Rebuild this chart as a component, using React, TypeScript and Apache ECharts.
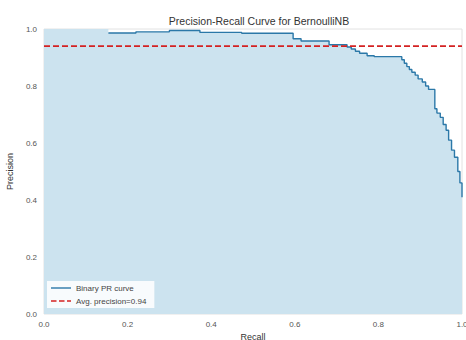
import React, { useEffect, useRef } from "react";
import * as echarts from "echarts";

const recall = [0, 0.154, 0.22, 0.3, 0.373, 0.473, 0.596, 0.615, 0.682, 0.725, 0.735, 0.745, 0.755, 0.773, 0.79, 0.856, 0.862, 0.868, 0.874, 0.88, 0.888, 0.895, 0.905, 0.913, 0.92, 0.935, 0.94, 0.948, 0.955, 0.962, 0.968, 0.975, 0.982, 0.99, 0.995, 1.0];
const precision = [1.0, 0.986, 0.99, 0.995, 0.988, 0.985, 0.966, 0.958, 0.945, 0.937, 0.93, 0.922, 0.915, 0.906, 0.903, 0.892, 0.88, 0.868, 0.858, 0.848, 0.838, 0.825, 0.814, 0.8, 0.788, 0.72, 0.705, 0.69, 0.665, 0.645, 0.61, 0.575, 0.55, 0.5, 0.46, 0.41];
const avgPrecision = 0.94;
const ticks = [0, 0.2, 0.4, 0.6, 0.8, 1.0];

const FONT = "Liberation Sans";

export default function App() {
  const ref = useRef<HTMLDivElement>(null);
  useEffect(() => {
    if (!ref.current) return;
    const chart = echarts.init(ref.current, null, { renderer: "svg" });
    const pts = recall.map((r, i) => [r, precision[i]]);
    const axisCommon = {
      type: "value",
      min: 0,
      max: 1,
      interval: 0.2,
      axisLine: { show: false },
      axisTick: { show: false },
      splitLine: { show: false },
      nameLocation: "middle",
      nameTextStyle: { fontFamily: FONT, fontSize: 9, color: "#333" },
      axisLabel: {
        fontFamily: FONT,
        fontSize: 8,
        color: "#555",
        formatter: (v: number) => (ticks.includes(Number(v.toFixed(1))) ? v.toFixed(1) : ""),
      },
    };
    chart.setOption({
      animation: false,
      backgroundColor: "#fff",
      title: {
        text: "Precision-Recall Curve for BernoulliNB",
        left: 254,
        top: 10,
        textAlign: "center",
        textStyle: { fontFamily: FONT, fontSize: 10.5, fontWeight: "normal", color: "#333" },
      },
      grid: {
        left: 44,
        right: 4,
        top: 29,
        bottom: 26,
        outerBoundsMode: "none",
        containLabel: false,
        show: true,
        borderColor: "#e2e2e2",
        borderWidth: 1,
        backgroundColor: "#fff",
      },
      xAxis: { ...axisCommon, name: "Recall", nameGap: 16, axisLabel: { ...axisCommon.axisLabel, margin: 6 } },
      yAxis: { ...axisCommon, name: "Precision", nameGap: 24, axisLabel: { ...axisCommon.axisLabel, margin: 7 } },
      legend: {
        orient: "vertical",
        left: 47,
        top: 281,
        itemWidth: 20,
        itemHeight: 8,
        itemGap: 5,
        padding: [3, 8, 3, 4],
        backgroundColor: "rgba(255,255,255,0.85)",
        textStyle: { fontFamily: FONT, fontSize: 8, color: "#444" },
        data: [
          { name: "Binary PR curve", icon: "path://M0,3.3 L20,3.3 L20,4.7 L0,4.7 Z" },
          {
            name: "Avg. precision=0.94",
            icon: "path://M0,3.2 L5.5,3.2 L5.5,4.8 L0,4.8 Z M8,3.2 L13.5,3.2 L13.5,4.8 L8,4.8 Z M16,3.2 L20,3.2 L20,4.8 L16,4.8 Z",
          },
        ],
      },
      series: [
        {
          name: "fill",
          type: "line",
          step: "end",
          data: pts,
          showSymbol: false,
          symbol: "none",
          lineStyle: { width: 0, opacity: 0 },
          areaStyle: { color: "#cce3ef", opacity: 1 },
          silent: true,
          z: 1,
        },
        {
          name: "Binary PR curve",
          type: "line",
          step: "end",
          data: pts.slice(1),
          symbol: "none",
          color: "#2b78a8",
          lineStyle: { width: 1.4, color: "#2b78a8" },
          z: 3,
        },
        {
          name: "Avg. precision=0.94",
          type: "line",
          data: [[0, avgPrecision], [1, avgPrecision]],
          symbol: "none",
          color: "#d42222",
          lineStyle: { width: 1.6, type: [6, 3], color: "#d42222" },
          z: 4,
        },
      ],
    });
    return () => chart.dispose();
  }, []);
  return <div ref={ref} style={{ position: "fixed", left: 0, top: 0, width: 466, height: 340 }} />;
}
